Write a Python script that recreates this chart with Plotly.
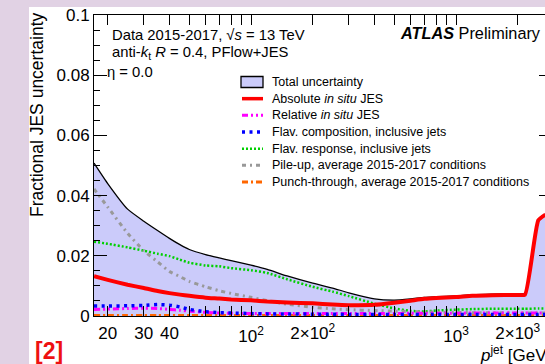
import plotly.graph_objects as go

# ---------------- data ----------------
pt = [17.15, 20, 25, 30, 35, 40, 45, 50, 60, 70, 80, 100, 120, 150, 200, 250, 300,
      400, 500, 600, 700, 800, 1000, 1200, 1500, 2000, 2170, 2520, 2730]
total = [0.0508, 0.0440, 0.0355, 0.0315, 0.0284, 0.0258, 0.0237, 0.0221, 0.0204, 0.0193,
         0.0184, 0.0169, 0.0155, 0.0133, 0.0109, 0.0093, 0.0077, 0.0057, 0.0053, 0.0057,
         0.0062, 0.0064, 0.0067, 0.0071, 0.0073, 0.0074, 0.0075, 0.0321, 0.0339]
absolute = [0.0132, 0.0120, 0.0104, 0.0093, 0.0083, 0.0076, 0.0071, 0.0067, 0.0061, 0.0058,
            0.0055, 0.0052, 0.0048, 0.0045, 0.0042, 0.0038, 0.0036, 0.0037, 0.0044, 0.0051,
            0.0057, 0.0060, 0.0063, 0.0067, 0.0069, 0.0070, 0.0071, 0.0318, 0.0337]
relative = [0.0022, 0.0023, 0.0025, 0.0026, 0.0025, 0.0022, 0.0019, 0.0016, 0.0012, 0.0010,
            0.0009, 0.0008, 0.0008, 0.0008, 0.0008, 0.0008, 0.0008, 0.0008, 0.0008, 0.0009,
            0.0009, 0.0009, 0.0009, 0.0010, 0.0010, 0.0010, 0.0010, 0.0010, 0.0010]
flav_comp = [0.0033, 0.0033, 0.0034, 0.0035, 0.0038, 0.0036, 0.0030, 0.0022, 0.0014, 0.0011,
             0.0010, 0.0008, 0.0007, 0.0007, 0.0006, 0.0006, 0.0005, 0.0005, 0.0005, 0.0005,
             0.0005, 0.0005, 0.0005, 0.0005, 0.0005, 0.0005, 0.0005, 0.0005, 0.0005]
flav_resp = [0.0247, 0.0240, 0.0228, 0.0217, 0.0207, 0.0199, 0.0187, 0.0177, 0.0168, 0.0165,
             0.0159, 0.0152, 0.0143, 0.0122, 0.0097, 0.0081, 0.0066, 0.0041, 0.0025, 0.0017,
             0.0015, 0.0018, 0.0021, 0.0023, 0.0024, 0.0024, 0.0024, 0.0025, 0.0025]
pileup = [0.0422, 0.0362, 0.0275, 0.0217, 0.0180, 0.0148, 0.0131, 0.0115, 0.0097, 0.0084,
          0.0075, 0.0062, 0.0051, 0.0039, 0.0029, 0.0024, 0.0021, 0.0018, 0.0016, 0.0015,
          0.0014, 0.0013, 0.0012, 0.0011, 0.0011, 0.0010, 0.0010, 0.0010, 0.0010]
punch = [0.0002, 0.0002, 0.0002, 0.0002, 0.0002, 0.0002, 0.0002, 0.0002, 0.0002, 0.0002,
         0.0002, 0.0002, 0.0002, 0.0002, 0.0002, 0.0002, 0.0002, 0.0002, 0.0002, 0.0002,
         0.0002, 0.0002, 0.0002, 0.0002, 0.0002, 0.0002, 0.0002, 0.0002, 0.0002]

names = ["Total uncertainty",
         "Absolute <i>in situ</i> JES",
         "Relative <i>in situ</i> JES",
         "Flav. composition, inclusive jets",
         "Flav. response, inclusive jets",
         "Pile-up, average 2015-2017 conditions",
         "Punch-through, average 2015-2017 conditions"]

x_major_vals = [100, 1000]
x_major_text = ["10<sup>2</sup>", "10<sup>3</sup>"]
x_minor_vals = [20, 30, 40, 50, 60, 70, 80, 90, 200, 300, 400, 500, 600, 700, 800, 900, 2000]
x_extra_vals = [20, 30, 40, 200, 2000]
x_extra_text = ["20", "30", "40", "2\u00d710<sup>2</sup>", "2\u00d710<sup>3</sup>"]
y_tick_vals = [0, 0.02, 0.04, 0.06, 0.08, 0.1]
y_tick_text = ["0", "0.02", "0.04", "0.06", "0.08", "0.1"]

# ---------------- styles ----------------
FONT = "Liberation Sans, Arial, Helvetica, sans-serif"
LILAC = "rgb(225,210,228)"
FILL = "rgb(203,203,250)"
W, H = 545, 364
L, R, T, B = 94, 545, 15, 316

styles = [
    None,
    dict(color="#ff0000", width=4, dash="solid"),
    dict(color="#ff00ff", width=3, dash="6px,3px,2px,3px,2px,3px"),
    dict(color="#0000ff", width=3.5, dash="3px,4.5px"),
    dict(color="#00d000", width=2.5, dash="2px,2px"),
    dict(color="#999999", width=3, dash="4px,4px,2px,4px"),
    dict(color="#ff6600", width=3, dash="6px,3px,2px,3px"),
]
series = [total, absolute, relative, flav_comp, flav_resp, pileup, punch]


def px(x):
    return (x - L) / (R - L)


def py(y):
    return (B - y) / (B - T)


fig = go.Figure()
fig.add_trace(go.Scatter(x=pt, y=total, mode="lines", fill="tozeroy", fillcolor=FILL,
                         line=dict(color="black", width=1.3, shape="spline", smoothing=0.5),
                         name=names[0], showlegend=False))
for idx in [6, 4, 5, 2, 3, 1]:
    st = dict(styles[idx])
    st.update(shape="spline", smoothing=0.5)
    fig.add_trace(go.Scatter(x=pt, y=series[idx], mode="lines", line=st,
                             name=names[idx], showlegend=False))

shapes = [
    dict(type="rect", xref="paper", yref="paper", x0=px(0), x1=px(29), y0=py(H), y1=py(0),
         fillcolor=LILAC, line=dict(width=0), layer="below"),
    dict(type="rect", xref="paper", yref="paper", x0=px(0), x1=px(W), y0=py(7), y1=py(0),
         fillcolor=LILAC, line=dict(width=0), layer="below"),
]
annotations = []

# manual legend
leg_y0, leg_dy = 82, 16.67
for i, nm in enumerate(names):
    yc = leg_y0 + leg_dy * i
    if i == 0:
        shapes.append(dict(type="rect", xref="paper", yref="paper", x0=px(241), x1=px(263),
                           y0=py(yc + 5.5), y1=py(yc - 5.5), fillcolor=FILL,
                           line=dict(color="black", width=1.3)))
    else:
        st = styles[i]
        shapes.append(dict(type="line", xref="paper", yref="paper", x0=px(242), x1=px(263),
                           y0=py(yc), y1=py(yc),
                           line=dict(color=st["color"], width=min(st["width"], 3.5), dash=st["dash"])))
    annotations.append(dict(text=nm, xref="paper", yref="paper", x=px(270), y=py(yc),
                            xanchor="left", yanchor="middle", showarrow=False,
                            font=dict(family=FONT, size=12.5, color="black")))

# plot labels
annotations += [
    dict(text="Data 2015-2017, \u221a<i>s</i> = 13 TeV", x=px(110), y=py(35)),
    dict(text="anti-<i>k</i><sub>t</sub> <i>R</i> = 0.4, PFlow+JES", x=px(110), y=py(53)),
    dict(text="\u03b7 = 0.0", x=px(105), y=py(72)),
]
for a in annotations[-3:]:
    a.update(xref="paper", yref="paper", xanchor="left", yanchor="middle", showarrow=False,
             font=dict(family=FONT, size=14.8, color="black"))

annotations += [
    dict(text="<b><i>ATLAS</i></b> Preliminary", xref="paper", yref="paper", x=px(543), y=py(33),
         xanchor="right", yanchor="middle", showarrow=False,
         font=dict(family=FONT, size=16.3, color="black")),
    dict(text="Fractional JES uncertainty", xref="paper", yref="paper", x=px(37), y=py(115),
         xanchor="center", yanchor="middle", textangle=-90, showarrow=False,
         font=dict(family=FONT, size=17.5, color="black")),
    dict(text="<i>p</i><sup>jet</sup> [GeV]", xref="paper", yref="paper", x=px(553), y=py(367),
         xanchor="right", yanchor="bottom", showarrow=False,
         font=dict(family=FONT, size=17, color="black")),
    dict(text="T", xref="paper", yref="paper", x=px(492), y=py(362), xanchor="left",
         yanchor="top", showarrow=False, font=dict(family=FONT, size=12, color="black")),
    dict(text="<b>[2]</b>", xref="paper", yref="paper", x=px(49), y=py(351), xanchor="center",
         yanchor="middle", showarrow=False,
         font=dict(family="Liberation Sans Narrow, Liberation Sans, Arial", size=23, color="#ee1111")),
]

fig.update_layout(
    width=W, height=H,
    margin=dict(l=L, r=W - R, t=T, b=H - B, pad=0),
    paper_bgcolor="white", plot_bgcolor="white",
    font=dict(family=FONT, size=17, color="black"),
    showlegend=False,
    shapes=shapes, annotations=annotations,
    xaxis=dict(type="log", range=[1.2341, 3.4341], showline=True, linecolor="black", linewidth=1,
               mirror="allticks", ticks="inside", ticklen=10, tickcolor="black", tickwidth=1,
               tickvals=x_major_vals, ticktext=x_major_text, showgrid=False, zeroline=False,
               tickfont=dict(family=FONT, size=17), ticklabelstandoff=5,
               minor=dict(tickvals=x_minor_vals, ticks="inside", ticklen=5,
                          tickcolor="black", tickwidth=1, showgrid=False)),
    xaxis2=dict(type="log", range=[1.2341, 3.4341], overlaying="x", anchor="y", side="bottom",
                showline=False, ticks="", tickvals=x_extra_vals, ticktext=x_extra_text,
                showgrid=False, zeroline=False, tickfont=dict(family=FONT, size=17),
                ticklabelstandoff=5),
    yaxis=dict(range=[0, 0.1], showline=True, linecolor="black", linewidth=1, mirror=False,
               ticks="inside", ticklen=13, tickcolor="black", tickwidth=1,
               tickvals=y_tick_vals, ticktext=y_tick_text, showgrid=False, zeroline=False,
               tickfont=dict(family=FONT, size=17),
               minor=dict(dtick=0.005, ticks="inside", ticklen=6, tickcolor="black",
                          tickwidth=1, showgrid=False)),
    yaxis2=dict(range=[0, 0.1], overlaying="y", anchor="x", side="right", showline=False,
                ticks="inside", ticklen=6, tickcolor="black", tickvals=y_tick_vals,
                showticklabels=False, showgrid=False, zeroline=False),
)
# invisible helper traces so the overlay axes are instantiated
fig.add_trace(go.Scatter(x=[pt[0]], y=[None], xaxis="x2", yaxis="y", showlegend=False,
                         hoverinfo="skip"))
fig.add_trace(go.Scatter(x=[pt[0]], y=[None], xaxis="x", yaxis="y2", showlegend=False,
                         hoverinfo="skip"))

fig.write_html("out.html")
